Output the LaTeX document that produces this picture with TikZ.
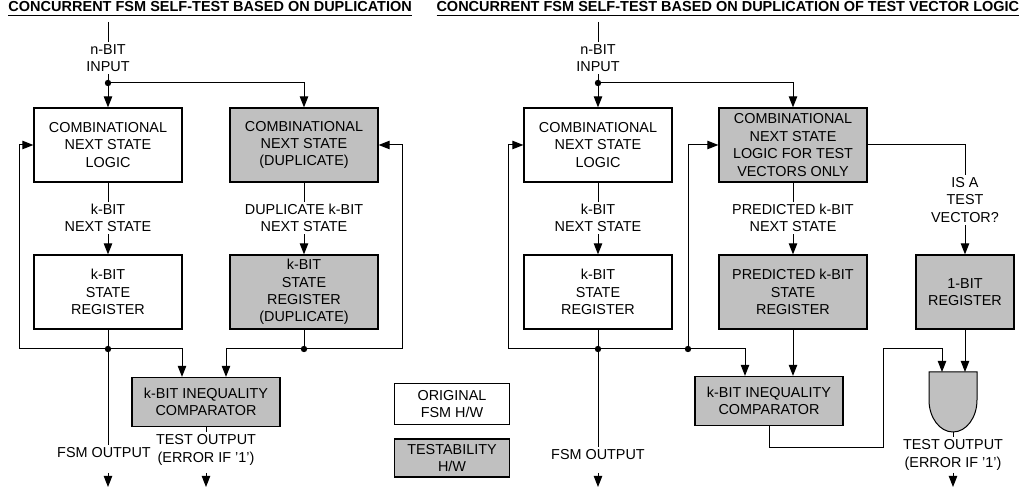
\documentclass[tikz,border=0pt]{standalone}
\usepackage{fontspec}
\setmainfont{Liberation Sans}
\usepackage{xcolor}
\usetikzlibrary{arrows.meta, positioning}
\definecolor{boxgray}{RGB}{192,192,192}

\begin{document}
\begin{tikzpicture}[x=0.5pt, y=-0.5pt, line width=0.5pt,
  every node/.style={font=\fontsize{7.2}{8.7}\selectfont, align=center, inner sep=1pt},
  >={Triangle[length=5.5pt, width=4.2pt]},
  hw/.style={draw, line width=0.6pt, minimum width=74pt, minimum height=37pt, inner sep=0pt},
  tst/.style={hw, fill=boxgray},
  cmp/.style={tst, minimum height=24.5pt},
  title/.style={font=\fontsize{7.25}{8.7}\selectfont\bfseries, anchor=base west, inner sep=0pt}]
  \useasboundingbox (0,0) rectangle (1024,490);

  % Duplication (left)
  \node[title] (ttlL) at (8,12) {\underline{CONCURRENT FSM SELF-TEST BASED ON DUPLICATION}};
  \coordinate (topL) at (108,22);
  \node (inL) at (108,58) {n-BIT\\INPUT};
  \coordinate (jL) at (108,83);
  \node[hw] (cnsL) at (108,145) {COMBINATIONAL\\NEXT STATE\\LOGIC};
  \node[tst] (cnsD) at (304,145) {COMBINATIONAL\\NEXT STATE\\(DUPLICATE)};
  \node (nsL) at (108,218) {k-BIT\\NEXT STATE};
  \node (nsD) at (304,218) {DUPLICATE k-BIT\\NEXT STATE};
  \node[hw] (regL) at (108,292) {k-BIT\\STATE\\REGISTER};
  \node[tst] (regD) at (304,292) {k-BIT\\STATE\\REGISTER\\(DUPLICATE)};
  \coordinate (fbL) at (19,349);
  \coordinate (jRegL) at (108,349);
  \coordinate (jRegD) at (304,349);
  \coordinate (fbD) at (402,349);
  \node[cmp] (cmpL) at (206,402) {k-BIT INEQUALITY\\COMPARATOR};
  \node (outL) at (104,453) {FSM OUTPUT};
  \node (toL) at (206,450) {TEST OUTPUT\\(ERROR IF '1')};
  \coordinate (endL) at (108,487);
  \coordinate (endTL) at (206,487);

  \draw (topL) -- (inL);
  \draw (inL) -- (jL);
  \draw[->] (jL) -- (cnsL);
  \draw[->] (jL) -| (cnsD);
  \draw (cnsL) -- (nsL);
  \draw[->] (nsL) -- (regL);
  \draw (cnsD) -- (nsD);
  \draw[->] (nsD) -- (regD);
  \draw[->] (jRegL) -- (fbL) |- (cnsL);
  \draw[->] (jRegD) -- (fbD) |- (cnsD);
  \draw[->] (jRegL) -| ([xshift=-12pt]cmpL.north);
  \draw[->] (jRegD) -| ([xshift=10pt]cmpL.north);
  \draw (regL) -- (outL.north -| regL);
  \draw (regD) -- (jRegD);
  \draw (cmpL) -- (toL);
  \draw[->] ([yshift=7pt]endL) -- (endL);
  \draw[->] ([yshift=7pt]endTL) -- (endTL);

  % Legend
  \node[hw, minimum width=57.5pt, minimum height=20.5pt] (legO) at (452,404) {ORIGINAL\\FSM H/W};
  \node[tst, minimum width=57.5pt, minimum height=19pt] (legT) at (452,458) {TESTABILITY\\H/W};

  % Duplication of test vector logic (right)
  \node[title] (ttlR) at (436,12) {\underline{CONCURRENT FSM SELF-TEST BASED ON DUPLICATION OF TEST VECTOR LOGIC}};
  \coordinate (topR) at (598,22);
  \node (inR) at (598,58) {n-BIT\\INPUT};
  \coordinate (jR) at (598,83);
  \node[hw] (cnsR) at (598,145) {COMBINATIONAL\\NEXT STATE\\LOGIC};
  \node[tst] (cnsT) at (793,145) {COMBINATIONAL\\NEXT STATE\\LOGIC FOR TEST\\VECTORS ONLY};
  \node (nsR) at (598,218) {k-BIT\\NEXT STATE};
  \node (nsP) at (793,218) {PREDICTED k-BIT\\NEXT STATE};
  \node (isTV) at (965,200) {IS A\\TEST\\VECTOR?};
  \node[hw] (regR) at (598,292) {k-BIT\\STATE\\REGISTER};
  \node[tst] (regP) at (793,292) {PREDICTED k-BIT\\STATE\\REGISTER};
  \node[tst, minimum width=49pt] (reg1) at (965,292) {1-BIT\\REGISTER};
  \coordinate (fbR) at (508,349);
  \coordinate (jRegR) at (598,349);
  \coordinate (jFb) at (688,349);
  \node[cmp] (cmpR) at (769,401) {k-BIT INEQUALITY\\COMPARATOR};
  % and gate
  \draw[fill=boxgray] (929,372) -- (977,372) -- (977,400)
    arc[start angle=0, end angle=-180, x radius=12pt, y radius=16pt] -- cycle;
  \coordinate (andA) at (942,372);
  \coordinate (andB) at (965,372);
  \coordinate (andY) at (953,432);
  \coordinate (bendA) at (883,448);
  \coordinate (bendB) at (883,349);
  \node (outR) at (598,455) {FSM OUTPUT};
  \node (toR) at (953,455) {TEST OUTPUT\\(ERROR IF '1')};
  \coordinate (endR) at (598,487);
  \coordinate (endTR) at (953,487);

  \draw (topR) -- (inR);
  \draw (inR) -- (jR);
  \draw[->] (jR) -- (cnsR);
  \draw[->] (jR) -| (cnsT);
  \draw (cnsR) -- (nsR);
  \draw[->] (nsR) -- (regR);
  \draw (cnsT) -- (nsP);
  \draw[->] (nsP) -- (regP);
  \draw (cnsT) -| (isTV);
  \draw[->] (isTV) -- (reg1);
  \draw[->] (jRegR) -- (fbR) |- (cnsR);
  \draw[->] (jRegR) -- (jFb) |- (cnsT);
  \draw[->] (jFb) -| ([xshift=-12pt]cmpR.north);
  \draw[->] (regP) -- (regP |- cmpR.north);
  \draw (regR) -- (outR.north -| regR);
  \draw[->] (cmpR) |- (bendA) -- (bendB) -| (andA);
  \draw[->] (reg1) -- (andB);
  \draw (andY) -- (toR);
  \draw[->] ([yshift=7pt]endR) -- (endR);
  \draw[->] ([yshift=7pt]endTR) -- (endTR);

  % junctions
  \foreach \j in {jL, jRegL, jRegD, jR, jRegR, jFb}
    \fill (\j) circle (1.6pt);
\end{tikzpicture}
\end{document}
